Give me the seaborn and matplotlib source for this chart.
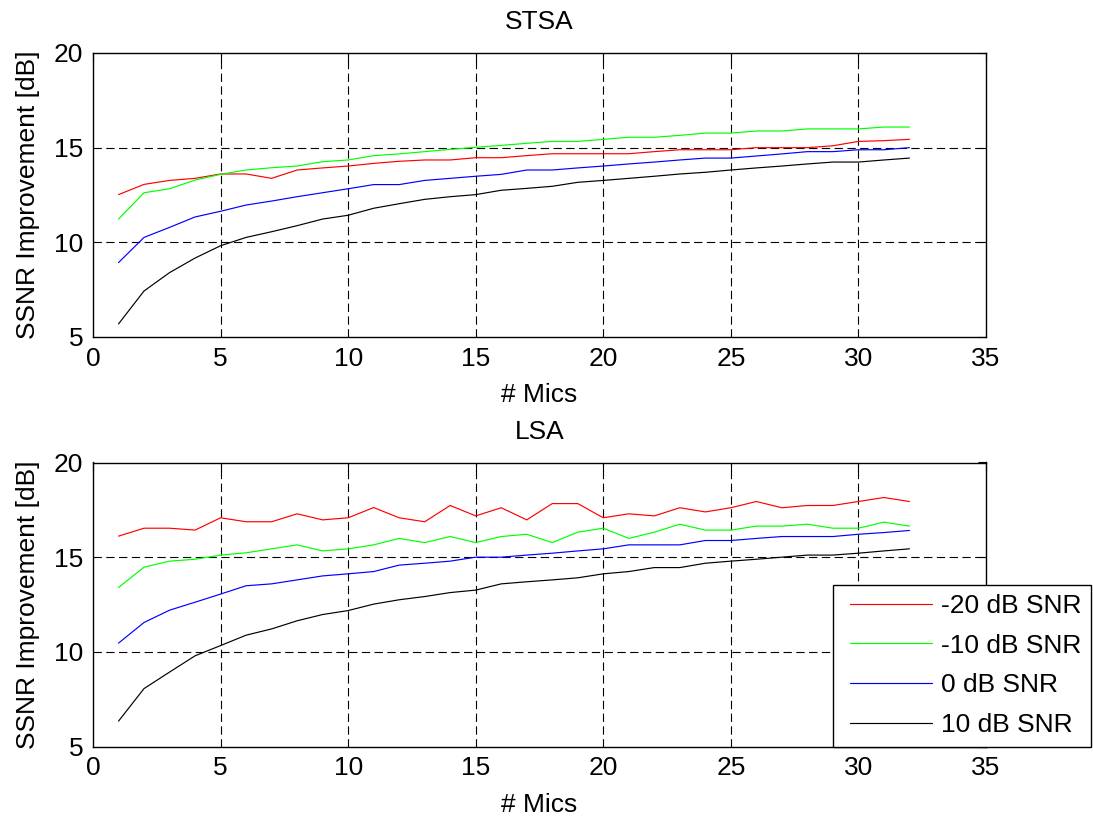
import numpy as np
import pandas as pd
import matplotlib
matplotlib.use("Agg")
import matplotlib.pyplot as plt
from matplotlib.lines import Line2D
from matplotlib.legend_handler import HandlerLine2D
import seaborn as sns

mics = list(range(1, 33))
series_names = ["-20 dB SNR", "-10 dB SNR", "0 dB SNR", "10 dB SNR"]

stsa_m20 = [12.52, 13.06, 13.27, 13.38, 13.61, 13.61, 13.38, 13.82, 13.93, 14.03, 14.17, 14.28,
            14.35, 14.35, 14.47, 14.47, 14.58, 14.68, 14.68, 14.68, 14.68, 14.79, 14.89,
            14.89, 14.89, 15.0, 15.0, 15.0, 15.1, 15.33, 15.37, 15.44]
stsa_m10 = [11.23, 12.62, 12.83, 13.29, 13.59, 13.82, 13.94, 14.03, 14.26, 14.35, 14.58, 14.67,
            14.79, 14.91, 15.02, 15.12, 15.23, 15.33, 15.33, 15.44, 15.55, 15.55, 15.65,
            15.77, 15.77, 15.88, 15.88, 15.99, 15.99, 15.99, 16.09, 16.09]
stsa_0 = [8.93, 10.26, 10.79, 11.34, 11.64, 11.97, 12.18, 12.41, 12.62, 12.83, 13.05, 13.05,
          13.27, 13.38, 13.49, 13.59, 13.82, 13.82, 13.93, 14.03, 14.14, 14.24, 14.35,
          14.45, 14.45, 14.56, 14.67, 14.79, 14.79, 14.89, 14.89, 15.0]
stsa_10 = [5.69, 7.43, 8.40, 9.17, 9.82, 10.26, 10.56, 10.88, 11.23, 11.43, 11.80, 12.04,
           12.27, 12.41, 12.52, 12.75, 12.85, 12.96, 13.17, 13.27, 13.38, 13.49, 13.61,
           13.70, 13.82, 13.93, 14.03, 14.14, 14.24, 14.24, 14.35, 14.45]

lsa_m20 = [16.11, 16.53, 16.53, 16.43, 17.08, 16.87, 16.87, 17.29, 16.97, 17.08, 17.62, 17.08,
           16.87, 17.73, 17.18, 17.61, 16.97, 17.83, 17.83, 17.08, 17.29, 17.18, 17.61,
           17.39, 17.61, 17.94, 17.61, 17.73, 17.73, 17.94, 18.15, 17.94]
lsa_m10 = [13.40, 14.47, 14.79, 14.89, 15.11, 15.23, 15.44, 15.65, 15.33, 15.44, 15.65, 15.99,
           15.77, 16.09, 15.77, 16.09, 16.21, 15.77, 16.32, 16.53, 15.99, 16.32, 16.74,
           16.43, 16.43, 16.64, 16.64, 16.74, 16.53, 16.53, 16.85, 16.64]
lsa_0 = [10.46, 11.55, 12.20, 12.62, 13.05, 13.49, 13.59, 13.80, 14.01, 14.12, 14.24, 14.58,
         14.68, 14.79, 15.0, 15.0, 15.11, 15.21, 15.33, 15.44, 15.65, 15.65, 15.65,
         15.88, 15.88, 15.99, 16.09, 16.09, 16.09, 16.21, 16.30, 16.41]
lsa_10 = [6.34, 8.06, 8.93, 9.79, 10.33, 10.88, 11.21, 11.64, 11.97, 12.18, 12.52, 12.75,
          12.92, 13.13, 13.26, 13.59, 13.70, 13.80, 13.91, 14.12, 14.24, 14.45, 14.45,
          14.68, 14.79, 14.89, 15.0, 15.11, 15.11, 15.21, 15.33, 15.44]

x_ticks = [0, 5, 10, 15, 20, 25, 30, 35]
y_ticks = [5, 10, 15, 20]
colors = ["#ff0000", "#00ff00", "#0000ff", "#000000"]


def long_df(vals):
    rows = []
    for name, v in zip(series_names, vals):
        for m, y in zip(mics, v):
            rows.append({"mics": m, "val": y, "series": name})
    return pd.DataFrame(rows)


sns.set_style("white")
plt.rcParams["font.family"] = ["Liberation Sans", "DejaVu Sans"]
plt.rcParams["lines.scale_dashes"] = False
plt.rcParams["text.color"] = "black"
plt.rcParams["axes.labelcolor"] = "black"
plt.rcParams["xtick.color"] = "black"
plt.rcParams["ytick.color"] = "black"

fig = plt.figure(figsize=(10.93, 8.17), dpi=100)
W, H = 1093, 817
ax1 = fig.add_axes([93 / W, 1 - 337 / H, (986 - 93) / W, (337 - 53) / H])
ax2 = fig.add_axes([93 / W, 1 - 746.5 / H, (986 - 93) / W, (746.5 - 462.5) / H])

palette = dict(zip(series_names, colors))
fs = 19

for ax, vals, title in [(ax1, [stsa_m20, stsa_m10, stsa_0, stsa_10], "STSA"),
                        (ax2, [lsa_m20, lsa_m10, lsa_0, lsa_10], "LSA")]:
    df = long_df(vals)
    sns.lineplot(data=df, x="mics", y="val", hue="series", palette=palette,
                 linewidth=0.85, ax=ax, legend=(ax is ax2))
    ax.set_xlim(0, 35)
    ax.set_ylim(5, 20)
    ax.set_xticks(x_ticks)
    ax.set_yticks(y_ticks)
    ax.grid(True, color="black", linestyle=(0, (6, 3.2)), linewidth=0.8)
    ax.set_axisbelow(True)
    xg = ax.xaxis.get_gridlines()
    yg = ax.yaxis.get_gridlines()
    for g in (xg[0], xg[-1], yg[0], yg[-1]):
        g.set_visible(False)
    for s in ax.spines.values():
        s.set_color("black")
        s.set_linewidth(1.0)
    ax.tick_params(direction="in", top=True, right=True, length=6, width=0.8,
                   labelsize=fs, colors="black", labelcolor="black", pad=7)
    ax.set_xlabel("# Mics", fontsize=fs, labelpad=9, color="black")
    ax.set_ylabel("SSNR Improvement [dB]", fontsize=fs, labelpad=10, color="black")
    ax.set_title(title, fontsize=fs, pad=17, color="black")

handles, labels = ax2.get_legend_handles_labels()
leg = ax2.legend(handles, labels, loc="lower left",
                 bbox_to_anchor=(833 / W, 1 - 746.5 / H), bbox_transform=fig.transFigure,
                 fontsize=fs, frameon=True, fancybox=False, edgecolor="black", framealpha=1,
                 borderaxespad=0, borderpad=0.35, handlelength=3.39, handletextpad=0.35,
                 labelspacing=0.6, handler_map={Line2D: HandlerLine2D(xpad=0.3)})
leg.get_frame().set_linewidth(1.0)
for t in leg.get_texts():
    t.set_color("black")

fig.savefig("out.png", dpi=100)
